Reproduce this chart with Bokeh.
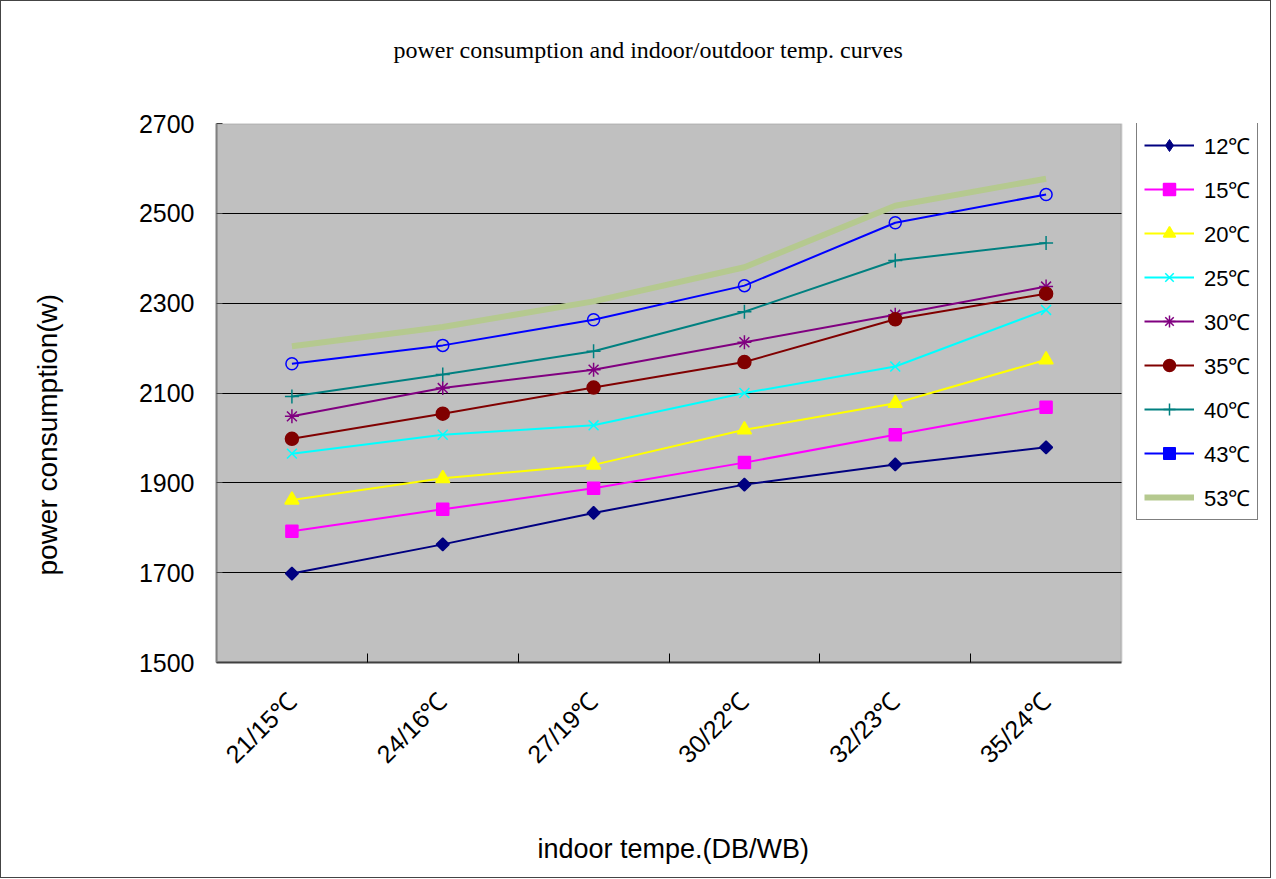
import math
from bokeh.plotting import figure
from bokeh.models import Range1d, FixedTicker, Legend, LegendItem, Title, BoxAnnotation
from bokeh.embed import file_html
from bokeh.resources import INLINE

# ---- data ----
categories = ["21/15℃", "24/16℃", "27/19℃", "30/22℃", "32/23℃", "35/24℃"]
series_names = ["12℃", "15℃", "20℃", "25℃", "30℃", "35℃", "40℃", "43℃", "53℃"]
s12 = [1698, 1763, 1833, 1896, 1941, 1979]
s15 = [1792, 1841, 1888, 1945, 2007, 2068]
s20 = [1862, 1910, 1940, 2018, 2077, 2174]
s25 = [1965, 2007, 2028, 2100, 2159, 2285]
s30 = [2048, 2111, 2152, 2213, 2274, 2337]
s35 = [1998, 2054, 2112, 2169, 2264, 2321]
s40 = [2092, 2141, 2193, 2281, 2395, 2434]
s43 = [2165, 2206, 2263, 2339, 2479, 2542]
s53 = [2204, 2247, 2304, 2380, 2517, 2577]
y_ticks = [1500, 1700, 1900, 2100, 2300, 2500, 2700]

series_values = [s12, s15, s20, s25, s30, s35, s40, s43, s53]

# ---- styles (per series) ----
styles = [
    dict(color="#000080", marker="square", size=9, angle=math.pi / 4, fill=True, leg="diamond", leg_size=13),
    dict(color="#FF00FF", marker="square", size=12, angle=0, fill=True, leg=None, leg_size=0),
    dict(color="#FFFF00", marker="triangle", size=14, angle=0, fill=True, leg=None, leg_size=0),
    dict(color="#00FFFF", marker="x", size=14, angle=0, fill=False, leg=None, leg_size=0),
    dict(color="#800080", marker="asterisk", size=14, angle=0, fill=False, leg=None, leg_size=0),
    dict(color="#800000", marker="circle", size=13, angle=0, fill=True, leg=None, leg_size=0),
    dict(color="#008080", marker="cross", size=14, angle=0, fill=False, leg=None, leg_size=0),
    dict(color="#0000FF", marker="circle", size=12, angle=0, fill=False, leg="square", leg_size=6),
    dict(color="#B5C98F", marker=None, size=0, angle=0, fill=False, leg=None, leg_size=0),
]

x = list(range(len(categories)))
x_lo, x_hi = -0.5, len(categories) - 0.5

# layout (pixels)
W, H = 1271, 878
BL, BR, BT, BB = 215, 6, 122, 217
FRAME_W = W - BL - BR          # frame also hosts the legend on its right
FRAME_H = H - BT - BB
PLOT_W = 905                   # width of the grey plot area
x_end = x_lo + (x_hi - x_lo) * FRAME_W / PLOT_W

p = figure(
    width=W, height=H,
    x_range=Range1d(x_lo, x_end),
    y_range=Range1d(y_ticks[0], y_ticks[-1]),
    output_backend="svg", toolbar_location=None,
    min_border_left=BL, min_border_right=BR,
    min_border_top=BT, min_border_bottom=BB,
    background_fill_color="white",
    border_fill_color="white",
    title=None,
)
p.styles = {"border": "1px solid #444444"}
p.outline_line_color = None

# grey plot area
area = BoxAnnotation(left=x_lo, right=x_hi, bottom=y_ticks[0], top=y_ticks[-1],
                     fill_color="#C0C0C0", fill_alpha=1,
                     line_color="#808080", line_width=2, level="image")
p.add_layout(area)

# titles (spacers keep them at the reference positions)
p.add_layout(Title(text=" ", text_font_size="1px", standoff=58), "above")
p.add_layout(Title(text="power consumption and indoor/outdoor temp. curves",
                   align="left", offset=177, standoff=0,
                   text_font="Liberation Serif", text_font_size="24px",
                   text_font_style="normal", text_color="black"), "above")

# grid
p.xgrid.visible = False
p.ygrid.ticker = FixedTicker(ticks=y_ticks)
p.ygrid.grid_line_color = "black"
p.ygrid.grid_line_width = 1
try:
    p.ygrid.cross_bounds = (x_lo, x_hi)
except AttributeError:
    p.ygrid.visible = False
    p.segment(x0=[x_lo] * (len(y_ticks) - 2), x1=[x_hi] * (len(y_ticks) - 2),
              y0=y_ticks[1:-1], y1=y_ticks[1:-1], line_color="black", line_width=1,
              level="underlay")

# y axis
p.yaxis.ticker = FixedTicker(ticks=y_ticks)
p.yaxis.major_tick_in = 6
p.yaxis.major_tick_out = 0
p.yaxis.minor_tick_line_color = None
p.yaxis.axis_line_color = "#808080"
p.yaxis.axis_line_width = 2
p.yaxis.major_tick_line_color = "#404040"
p.yaxis.major_label_text_font = "Liberation Sans"
p.yaxis.major_label_text_font_size = "25px"
p.yaxis.major_label_text_color = "black"
p.yaxis.major_label_standoff = 22

p.add_layout(Title(text=" ", text_font_size="1px", standoff=70), "left")
p.add_layout(Title(text="power consumption(w)", align="left", offset=87, standoff=0,
                   text_font="Liberation Sans", text_font_size="28px",
                   text_font_style="normal", text_color="black"), "left")

# x axis
p.xaxis.bounds = (x_lo, x_hi)
p.xaxis.ticker = FixedTicker(ticks=x, minor_ticks=[i + 0.5 for i in x[:-1]])
p.xaxis.major_label_overrides = {i: c for i, c in zip(x, categories)}
p.xaxis.major_tick_in = 0
p.xaxis.major_tick_out = 0
p.xaxis.minor_tick_in = 9
p.xaxis.minor_tick_out = 0
p.xaxis.minor_tick_line_color = "black"
p.xaxis.axis_line_color = "#404040"
p.xaxis.axis_line_width = 2
p.xaxis.major_label_orientation = math.pi / 4
p.xaxis.major_label_text_font = "Liberation Sans"
p.xaxis.major_label_text_font_size = "25px"
p.xaxis.major_label_text_color = "black"
p.xaxis.major_label_standoff = 34

p.add_layout(Title(text=" ", text_font_size="1px", standoff=47), "below")
p.add_layout(Title(text="indoor tempe.(DB/WB)", align="left", offset=321, standoff=0,
                   text_font="Liberation Sans", text_font_size="27px",
                   text_font_style="normal", text_color="black"), "below")

items = []
for name, vals, st in zip(series_names, series_values, styles):
    lw = 6 if st["marker"] is None else 2
    r_line = p.line(x, vals, line_color=st["color"], line_width=lw)
    rs = [r_line]
    if st["marker"] is not None:
        fill = st["color"] if st["fill"] else None
        r_m = p.scatter(x, vals, marker=st["marker"], size=st["size"], angle=st["angle"],
                        fill_color=fill, line_color=st["color"], line_width=1.5)
        if st["leg"] is not None:
            r_leg = p.scatter([float("nan")], [float("nan")], marker=st["leg"], size=st["leg_size"],
                              fill_color=st["color"], line_color=st["color"])
            rs.append(r_leg)
        else:
            rs.append(r_m)
    items.append(LegendItem(label=name, renderers=rs))

PAD, SPC, ITEM_H = 7, 14, 30
LEG_H = 2 * PAD + len(items) * ITEM_H + (len(items) - 1) * SPC
legend = Legend(
    items=items, location=(PLOT_W + 15, FRAME_H - 1 - LEG_H), margin=0,
    border_line_color="black", border_line_width=1,
    background_fill_color="white", background_fill_alpha=1,
    label_text_font="Liberation Sans", label_text_font_size="22px",
    label_text_color="black",
    glyph_width=50, glyph_height=ITEM_H, label_height=ITEM_H,
    spacing=SPC, padding=PAD, label_standoff=10,
)
p.add_layout(legend, "center")

open("out.html", "w").write(file_html(p, INLINE))
